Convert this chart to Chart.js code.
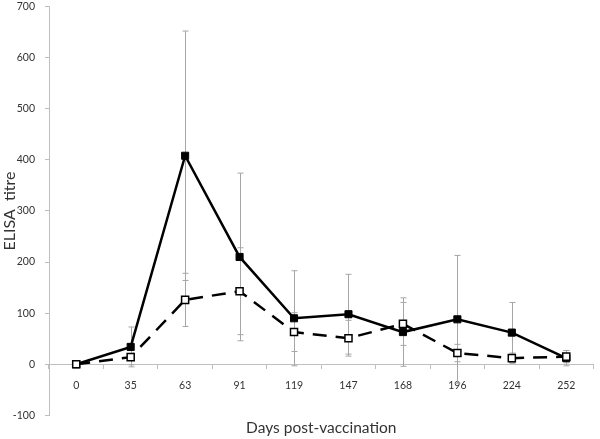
<!DOCTYPE html>
<html>
<head>
<meta charset="utf-8">
<script src="https://cdn.jsdelivr.net/npm/chart.js@4/dist/chart.umd.min.js"></script>
<style>
  html, body { margin: 0; padding: 0; background: #fff; }
  #wrap { width: 600px; height: 439px; }
</style>
</head>
<body>
<div id="wrap"><canvas id="myChart" width="600" height="439"></canvas></div>
<script>
// days after vaccination (x categories)
const days = ['0', '35', '63', '91', '119', '147', '168', '196', '224', '252'];

// group with filled squares (solid line)
const solidTitre = [0, 34, 408, 210, 90, 98, 63, 88, 62, 12];
const solidErr = [0, 39, 244, 164, 93, 78, 67, 125, 59, 15];

// group with open squares (dashed line)
const dashedTitre = [0, 14, 126, 143, 63, 51, 79, 22, 12, 15];
const dashedErr = [0, 15, 52, 85, 38, 35, 42, 17, 10, 12];

const yTicks = [-100, 0, 100, 200, 300, 400, 500, 600, 700];

const textColor = '#333333';
const axisColor = '#bfbfbf';
const tickFont = { family: "'Liberation Sans Narrow', Lato", size: 10.5 };

// error bars, drawn behind the lines
const errorBars = {
    id: 'errorBars',
    beforeDatasetsDraw(chart) {
        const ctx = chart.ctx;
        const xs = chart.scales.x;
        const ys = chart.scales.y;
        const sets = [[solidTitre, solidErr], [dashedTitre, dashedErr]];
        ctx.save();
        ctx.strokeStyle = '#a6a6a6';
        ctx.lineWidth = 1;
        sets.forEach(([vals, errs]) => {
            vals.forEach((v, i) => {
                if (!errs[i]) return;
                const x = Math.round(xs.getPixelForValue(i)) + 0.5;
                const top = ys.getPixelForValue(v + errs[i]);
                const bot = ys.getPixelForValue(v - errs[i]);
                ctx.beginPath();
                ctx.moveTo(x, top);
                ctx.lineTo(x, bot);
                ctx.moveTo(x - 3, top);
                ctx.lineTo(x + 3, top);
                ctx.moveTo(x - 3, bot);
                ctx.lineTo(x + 3, bot);
                ctx.stroke();
            });
        });
        ctx.restore();
    }
};

const ctx = document.getElementById('myChart').getContext('2d');
new Chart(ctx, {
    type: 'line',
    data: {
        labels: days,
        datasets: [
            {
                label: 'dashed',
                data: dashedTitre,
                borderColor: '#000',
                borderWidth: 2.5,
                borderDash: [14, 9],
                pointStyle: 'rect',
                pointRadius: 5,
                pointBackgroundColor: '#fff',
                pointBorderColor: '#000',
                pointBorderWidth: 1.5,
                tension: 0
            },
            {
                label: 'solid',
                data: solidTitre,
                borderColor: '#000',
                borderWidth: 2.5,
                pointStyle: 'rect',
                pointRadius: 5,
                pointBackgroundColor: '#000',
                pointBorderColor: '#000',
                pointBorderWidth: 1,
                tension: 0
            }
        ]
    },
    options: {
        responsive: false,
        animation: false,
        layout: { padding: { top: 0, right: 1, left: 0, bottom: 0 } },
        plugins: {
            legend: { display: false },
            tooltip: { enabled: false },
            title: {
                display: true,
                position: 'bottom',
                fullSize: false,
                text: 'Days post-vaccination',
                color: textColor,
                font: { family: 'Lato', size: 15.5, weight: 'normal' },
                padding: { top: 3, bottom: 2 }
            }
        },
        scales: {
            x: {
                position: { y: 0 },
                offset: true,
                afterFit: (axis) => { axis.height = 0; },
                grid: {
                    display: true,
                    offset: true,
                    drawOnChartArea: false,
                    color: axisColor,
                    tickLength: 4
                },
                border: { color: axisColor, width: 1 },
                ticks: {
                    color: textColor,
                    font: tickFont,
                    padding: 11,
                    maxRotation: 0
                }
            },
            y: {
                min: -100,
                max: 700,
                afterBuildTicks: (axis) => { axis.ticks = yTicks.map(v => ({ value: v })); },
                afterFit: (axis) => { axis.width = 49; axis.paddingTop = 3; },
                grid: {
                    display: true,
                    drawOnChartArea: false,
                    color: axisColor,
                    tickLength: 4
                },
                border: { color: axisColor, width: 1 },
                ticks: {
                    color: textColor,
                    font: tickFont,
                    padding: 10
                },
                title: {
                    display: true,
                    text: 'ELISA  titre',
                    color: textColor,
                    font: { family: 'Lato', size: 16 },
                    padding: { top: 0, bottom: 0 }
                }
            }
        }
    },
    plugins: [errorBars]
});
</script>
</body>
</html>
